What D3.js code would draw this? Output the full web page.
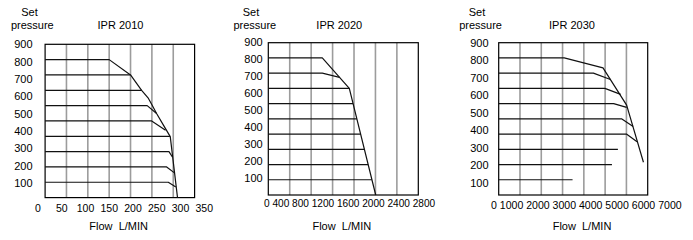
<!DOCTYPE html>
<html>
<head>
<meta charset="utf-8">
<script src="https://cdn.jsdelivr.net/npm/d3@7"></script>
<style>
  html, body { margin: 0; padding: 0; background: #fff; }
  svg { display: block; font-family: "Liberation Sans", Arial, sans-serif; }
</style>
</head>
<body>
<svg id="c" width="693" height="240"></svg>
<script>
// ---------- data ----------
const titles = ["IPR 2010", "IPR 2020", "IPR 2030"];
const yTickLabels = [100, 200, 300, 400, 500, 600, 700, 800, 900];
const xTicks2010 = [0, 50, 100, 150, 200, 250, 300, 350];
const xTicks2020 = [0, 400, 800, 1200, 1600, 2000, 2400, 2800];
const xTicks2030 = [0, 1000, 2000, 3000, 4000, 5000, 6000, 7000];

// each curve: [flow L/MIN, set pressure] points
const curves2010 = [
  [[0, 900], [150, 900], [200, 800], [226, 700], [241, 651], [251, 601], [261, 549], [277, 473], [293, 398], [310, 0]],
  [[0, 800], [200, 800]],
  [[0, 700], [226, 700]],
  [[0, 600], [239, 600], [261, 549]],
  [[0, 500], [249.5, 500], [282, 440]],
  [[0, 400], [292.5, 400]],
  [[0, 300], [290, 300], [298, 265]],
  [[0, 200], [284.6, 200], [302, 163]],
  [[0, 100], [288.4, 100], [306, 69]]
];
const curves2020 = [
  [[0, 900], [1008, 900], [1512, 700], [2005, 0]],
  [[0, 800], [1008, 800], [1330, 772]],
  [[0, 700], [1512, 700]],
  [[0, 600], [1582, 600]],
  [[0, 500], [1653, 500]],
  [[0, 400], [1723, 400]],
  [[0, 300], [1794, 300]],
  [[0, 200], [1864, 200]],
  [[0, 100], [1935, 100]]
];
const curves2030 = [
  [[0, 900], [3080, 900], [4900, 835], [6010, 590], [6800, 215]],
  [[0, 800], [4450, 800], [5250, 758]],
  [[0, 700], [4990, 700], [5730, 661]],
  [[0, 600], [5400, 600], [6010, 575]],
  [[0, 500], [5770, 500], [6315, 449]],
  [[0, 400], [6000, 400], [6500, 350]],
  [[0, 300], [5600, 300]],
  [[0, 200], [5320, 200]],
  [[0, 100], [3470, 100]]
];

// ---------- layout (positions & styles) ----------
const charts = [
  { title: titles[0], xTicks: xTicks2010, curves: curves2010,
    box: { x0: 45.1, x1: 194.6, y0: 44.3, y1: 197.6 },
    yLab: { right: 32.5, top: 44.5, bottom: 183 },
    xLab: { mode: "scale", x0: 38, x1: 204.3, y: 208.5, size: 10.5 },
    setX: 29.5, pressX: 32.3, titleX: 120.5, flowX: 118.7 },
  { title: titles[1], xTicks: xTicks2020, curves: curves2020,
    box: { x0: 268.3, x1: 418.3, y0: 42.7, y1: 195 },
    yLab: { right: 262.7, top: 41.7, bottom: 178.3 },
    xLab: { mode: "string", x0: 264, y: 203.5, size: 10.1 },
    setX: 251, pressX: 254.8, titleX: 339.3, flowX: 341.8 },
  { title: titles[2], xTicks: xTicks2030, curves: curves2030,
    box: { x0: 498.7, x1: 647.7, y0: 42.7, y1: 195 },
    yLab: { right: 488.6, top: 43, bottom: 182.7 },
    xLab: { mode: "string", x0: 491, y: 205.5, size: 10.55 },
    setX: 477, pressX: 480.6, titleX: 572, flowX: 582 }
];

const svg = d3.select("#c");

charts.forEach(ch => {
  const g = svg.append("g");
  const b = ch.box;
  const xMax = ch.xTicks[ch.xTicks.length - 1];
  const x = d3.scaleLinear().domain([0, xMax]).range([b.x0, b.x1]);
  const y = d3.scaleLinear().domain([0, 1000]).range([b.y1, b.y0]);

  // vertical grid
  g.append("g").selectAll("line")
    .data(ch.xTicks.slice(1, -1))
    .join("line")
    .attr("x1", d => x(d)).attr("x2", d => x(d))
    .attr("y1", b.y0).attr("y2", b.y1)
    .attr("stroke", "#9c9c9c").attr("stroke-width", 1.6);

  // frame
  g.append("rect")
    .attr("x", b.x0).attr("y", b.y0)
    .attr("width", b.x1 - b.x0).attr("height", b.y1 - b.y0)
    .attr("fill", "none").attr("stroke", "#000").attr("stroke-width", 1.2);

  // curves
  const line = d3.line().x(d => x(d[0])).y(d => y(d[1]));
  g.append("g").selectAll("path")
    .data(ch.curves)
    .join("path")
    .attr("d", line)
    .attr("fill", "none").attr("stroke", "#111").attr("stroke-width", 1.2)
    .attr("stroke-linejoin", "round");

  // y tick labels
  const yl = d3.scaleLinear().domain([100, 900]).range([ch.yLab.bottom, ch.yLab.top]);
  g.append("g").selectAll("text")
    .data(yTickLabels)
    .join("text")
    .attr("x", ch.yLab.right).attr("y", d => yl(d))
    .attr("dy", "0.35em").attr("text-anchor", "end")
    .attr("font-size", 11).attr("fill", "#000")
    .text(d => d);

  // x tick labels
  if (ch.xLab.mode === "scale") {
    const xl = d3.scaleLinear().domain([0, xMax]).range([ch.xLab.x0, ch.xLab.x1]);
    g.append("g").selectAll("text")
      .data(ch.xTicks)
      .join("text")
      .attr("x", d => xl(d)).attr("y", ch.xLab.y)
      .attr("dy", "0.35em").attr("text-anchor", "middle")
      .attr("font-size", ch.xLab.size).attr("fill", "#000")
      .text(d => d);
  } else {
    g.append("text")
      .attr("x", ch.xLab.x0).attr("y", ch.xLab.y)
      .attr("dy", "0.35em").attr("text-anchor", "start")
      .attr("font-size", ch.xLab.size).attr("fill", "#000")
      .text(ch.xTicks.join(" "));
  }

  // axis titles & chart title
  g.append("text").attr("x", ch.setX).attr("y", 11.7).attr("dy", "0.35em")
    .attr("text-anchor", "middle").attr("font-size", 11).text("Set");
  g.append("text").attr("x", ch.pressX).attr("y", 25).attr("dy", "0.35em")
    .attr("text-anchor", "middle").attr("font-size", 11).text("pressure");
  g.append("text").attr("x", ch.titleX).attr("y", 25).attr("dy", "0.35em")
    .attr("text-anchor", "middle").attr("font-size", 11).text(ch.title);
  g.append("text").attr("x", ch.flowX).attr("y", 226).attr("dy", "0.35em")
    .attr("text-anchor", "middle").attr("font-size", 11).text("Flow  L/MIN")
    .attr("style", "white-space:pre");
});
</script>
</body>
</html>
